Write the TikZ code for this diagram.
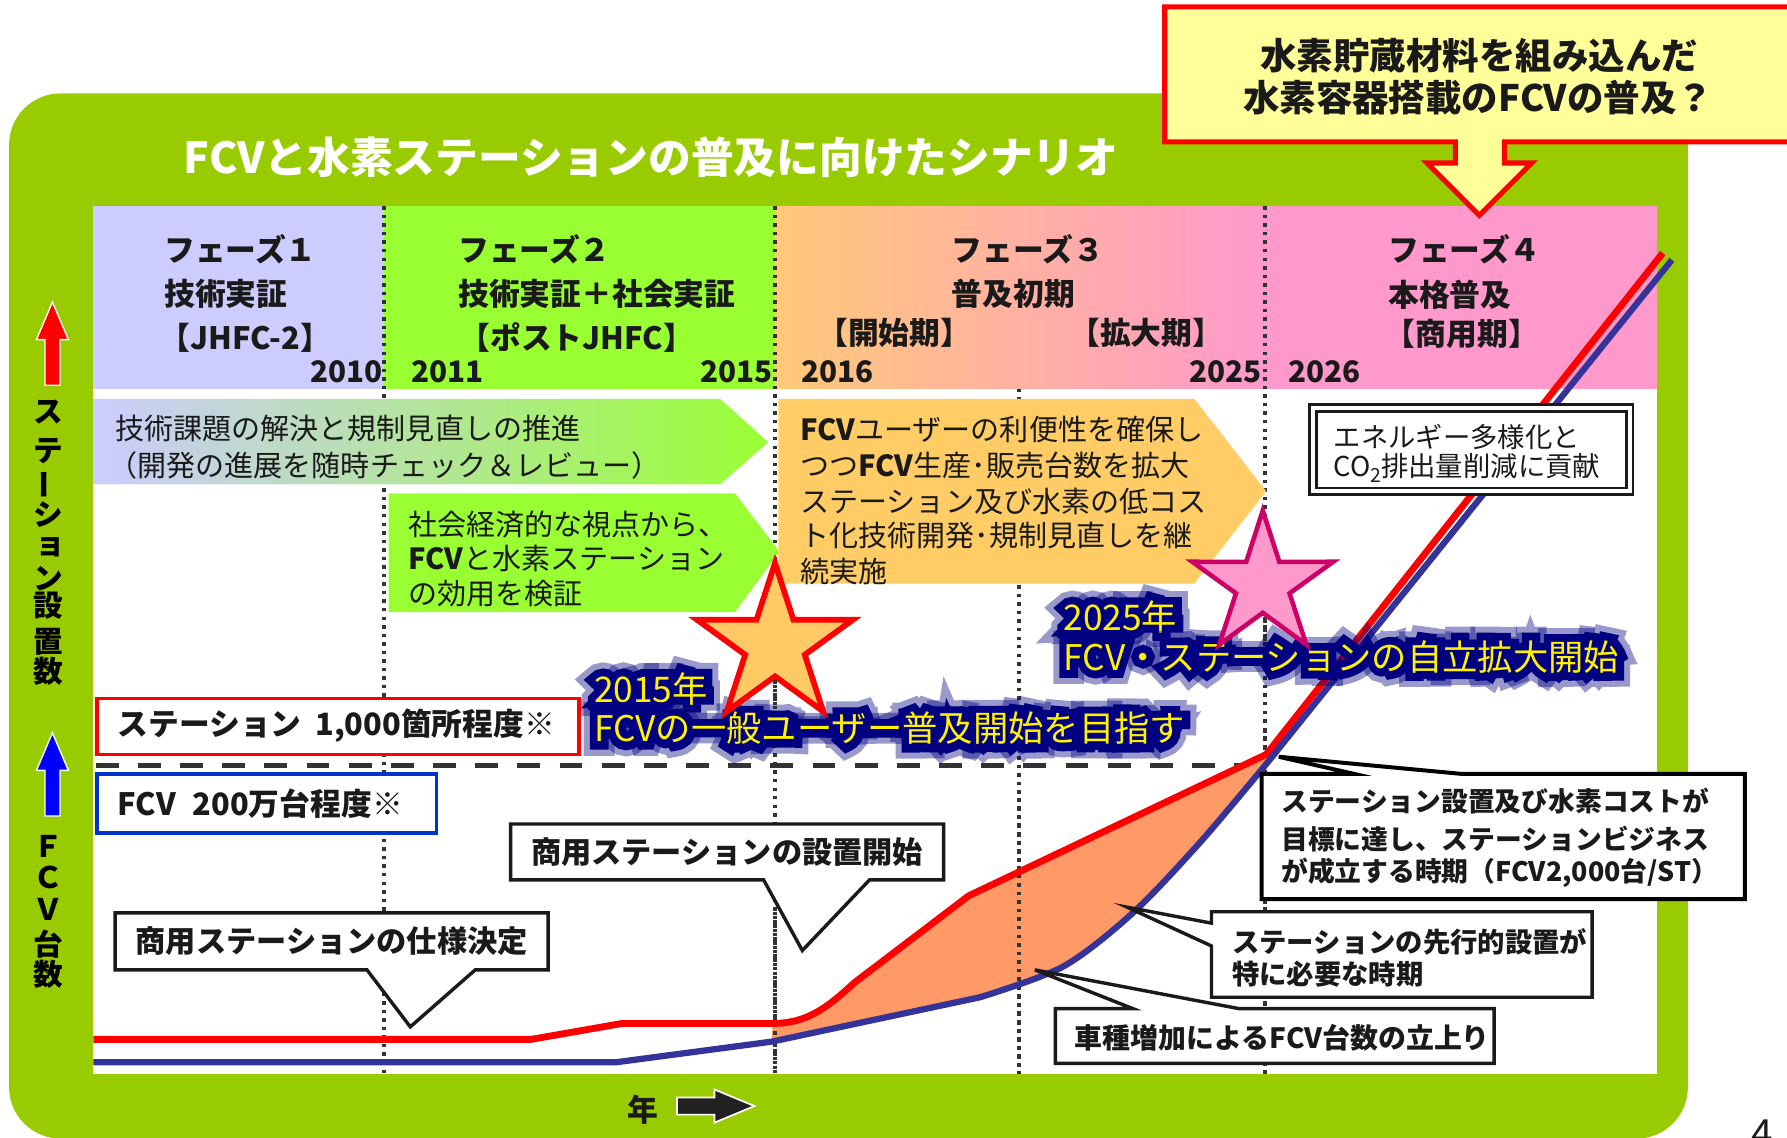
\documentclass[tikz,border=0pt]{standalone}
\usepackage{fontspec}
\setmainfont{Noto Sans CJK JP}
\newfontfamily\glowinner{Noto Sans CJK JP}[FakeBold=44]
\newfontfamily\glowouter{Noto Sans CJK JP}[FakeBold=78]
\usetikzlibrary{calc}
\definecolor{panelgreen}{HTML}{99CC00}
\definecolor{phA}{HTML}{CCCCFF}
\definecolor{phB}{HTML}{99FF33}
\definecolor{phC}{HTML}{FFC978}
\definecolor{phD}{HTML}{FF99CC}
\definecolor{arrC}{HTML}{FFCC66}
\definecolor{fillor}{HTML}{FF9966}
\definecolor{fcvblue}{HTML}{333399}
\definecolor{glownavy}{HTML}{000080}
\definecolor{startwo}{HTML}{CC0066}
\definecolor{starone}{HTML}{FFC966}
\definecolor{callfill}{HTML}{FFFF99}
\definecolor{dotgray}{HTML}{333333}
\definecolor{boxblue}{HTML}{0033CC}
\definecolor{inkblack}{HTML}{1A1A1A}
\newcommand\fsz[1]{\fontsize{#1}{#1}\selectfont}
\newcommand\drawstar[4]{\draw[#1] ($(#2)+(90:#3)$) -- ($(#2)+(126:#4)$) -- ($(#2)+(162:#3)$) -- ($(#2)+(198:#4)$) -- ($(#2)+(234:#3)$) -- ($(#2)+(270:#4)$) -- ($(#2)+(306:#3)$) -- ($(#2)+(342:#4)$) -- ($(#2)+(18:#3)$) -- ($(#2)+(54:#4)$) -- cycle;}
\newcommand\glowtext[3]{%
 \node[glowtxt,text=glownavy,opacity=0.4,font=\fsz{31}\glowouter] (#1o) at (#2) {#3};%
 \node[glowtxt,text=glownavy,font=\fsz{31}\glowinner] (#1i) at (#2) {#3};%
 \node[glowtxt,text=yellow] (#1) at (#2) {#3};}
\begin{document}
\begin{tikzpicture}[x=1pt,y=-1pt,
 glowtxt/.style={anchor=base west, inner sep=0pt, font=\fsz{31}},
 hdr/.style={anchor=west, inner sep=0pt, font=\fsz{27}\bfseries, text=inkblack},
 yr/.style={inner sep=0pt, font=\fsz{26}\bfseries, text=inkblack},
 atxt/.style={anchor=west, inner sep=0pt, font=\fsz{25.5}, text=inkblack},
 btxt/.style={anchor=west, inner sep=0pt, font=\fsz{24}\bfseries, text=inkblack},
 vtxt/.style={inner sep=0pt, font=\fsz{26}\bfseries, text=black},
 dotline/.style={draw=dotgray, line width=3pt, dash pattern=on 3pt off 4.5pt},
 cbox/.style={draw=inkblack, line width=3pt, fill=white, line join=miter},
]
\useasboundingbox (0,0) rectangle (1568,998);
\clip (0,0) rectangle (1568,998);
\fill[white] (0,0) rectangle (1568,998);
% panel
\fill[panelgreen, rounded corners=45pt] (8,82) rectangle (1481,999);
\node[anchor=base west, inner sep=0pt, font=\fsz{37.5}\bfseries, text=white] (title) at (161,152) {FCVと水素ステーションの普及に向けたシナリオ};
% bands
\fill[white] (82,341) rectangle (1454,942);
\fill[phA] (82,181) rectangle (337,341);
\fill[phB] (337,181) rectangle (680,341);
\shade[left color=phC, right color=phD] (680,181) rectangle (1110,341);
\fill[phD] (1110,181) rectangle (1454,341);
% dotted lines
\draw[dotline] (337,181) -- (337,942);
\draw[dotline] (680,181) -- (680,942);
\draw[dotline] (894,341) -- (894,942);
\draw[dotline] (1110,181) -- (1110,942);
% headers
\node[hdr] (p1a) at (144,219) {フェーズ１};
\node[hdr] (p1b) at (144,258) {技術実証};
\node[hdr] (p1c) at (140,296) {【JHFC-2】};
\node[yr, anchor=east] (y2010) at (336,326) {2010};
\node[hdr] (p2a) at (402,219) {フェーズ２};
\node[hdr] (p2b) at (402,258) {技術実証＋社会実証};
\node[hdr] (p2c) at (403,296) {【ポストJHFC】};
\node[yr, anchor=west] (y2011) at (361,326) {2011};
\node[yr, anchor=east] (y2015) at (678,326) {2015};
\node[hdr] (p3a) at (835,219) {フェーズ３};
\node[hdr] (p3b) at (835,258) {普及初期};
\node[hdr] (p3c) at (717,292) {【開始期】};
\node[hdr] (p3d) at (938,292) {【拡大期】};
\node[yr, anchor=west] (y2016) at (703,326) {2016};
\node[yr, anchor=east] (y2025) at (1107,326) {2025};
\node[hdr] (p4a) at (1218,219) {フェーズ４};
\node[hdr] (p4b) at (1218,259) {本格普及};
\node[hdr] (p4c) at (1215,293) {【商用期】};
\node[yr, anchor=west] (y2026) at (1130,326) {2026};
% arrows
\shade[left color=phA, right color=phB] (82,350) -- (632,350) -- (674,388) -- (632,425) -- (82,425) -- cycle;
\node[atxt] (a1) at (101,376) {技術課題の解決と規制見直しの推進};
\node[atxt] (a2) at (95,408) {（開発の進展を随時チェック＆レビュー）};
\fill[phB] (341,433) -- (645,433) -- (684,484) -- (645,537) -- (341,537) -- cycle;
\node[atxt] (b1) at (358,460) {社会経済的な視点から、};
\node[atxt] (b2) at (358,490) {{\bfseries FCV}と水素ステーション};
\node[atxt] (b3) at (358,521) {の効用を検証};
\fill[arrC] (683,350) -- (1048,350) -- (1111,431) -- (1048,512) -- (683,512) -- cycle;
\node[atxt] (c1) at (702,377) {{\bfseries FCV}ユーザーの利便性を確保し};
\node[atxt] (c2) at (702,408) {つつ{\bfseries FCV}生産･販売台数を拡大};
\node[atxt] (c3) at (702,440) {ステーション及び水素の低コス};
\node[atxt] (c4) at (702,470) {ト化技術開発･規制見直しを継};
\node[atxt] (c5) at (702,501) {続実施};
% dashed
\draw[dotgray, line width=4.5pt, dash pattern=on 20pt off 17pt] (84,672) -- (1100,672);
% fill and lines
\fill[fillor] (678,898) .. controls (710,898) and (728,882) .. (750,862) -- (850,786) -- (1111,662) -- (1113,668) -- plot[smooth] coordinates {(1113,668) (1054,738) (994,801) (933,848) (860,875)} -- (677,914) -- cycle;
\draw[dotline] (680,800) -- (680,942);
\draw[dotline] (894,700) -- (894,942);
\draw[dotline] (1110,640) -- (1110,942);
\draw[red, line width=6pt, line join=round] (82,912) -- (466,912) -- (546,898) -- (678,898) .. controls (710,898) and (728,882) .. (750,862) -- (850,786) -- (1111,662) -- (1459,222);
\draw[fcvblue, line width=5.5pt, line join=round] (82,932) -- (541,932) -- (677,914) -- (860,875) -- plot[smooth] coordinates {(860,875) (933,848) (994,801) (1054,738) (1113,668)} -- (1467,228);
% double box
\draw[inkblack, line width=2.2pt, fill=white] (1149,355) rectangle (1433,434);
\draw[inkblack, line width=2.2pt] (1155,361) rectangle (1427,428);
\node[anchor=west, inner sep=0pt, font=\fsz{24}, text=inkblack] (e1) at (1170,383) {エネルギー多様化と};
\node[anchor=west, inner sep=0pt, font=\fsz{24}, text=inkblack] (e2) at (1170,411) {CO\raisebox{-0.22em}{\fsz{17}2}排出量削減に貢献};
% glow texts
\coordinate (g1) at (521,616);
\coordinate (g2) at (521,651);
\coordinate (g3) at (933,553);
\coordinate (g4) at (933,588);
\glowtext{gA}{g1}{2015年}
\glowtext{gB}{g2}{FCVの一般ユーザー普及開始を目指す}
\glowtext{gC}{g3}{2025年}
\glowtext{gD}{g4}{FCV・ステーションの自立拡大開始}
% stars
\coordinate (s1) at (680,566);
\coordinate (s2) at (1108,513);
\drawstar{draw=red, fill=starone, line width=5pt, line join=miter}{s1}{72pt}{27.5pt}
\drawstar{draw=startwo, fill=phD, line width=4pt, line join=miter}{s2}{65pt}{24.7pt}
\draw[dotline] (680,597) -- (680,626);
\draw[dotline] (1110,544) -- (1110,566);
% boxes
\draw[draw=red, line width=3pt, fill=white] (85,613) rectangle (508,662);
\node[anchor=west, inner sep=0pt, font=\fsz{27}\bfseries, text=inkblack] (st) at (103,637) {ステーション\hspace{0.45em}1,000箇所程度※};
\draw[draw=boxblue, line width=3pt, fill=white] (85,679) rectangle (383,731);
\node[anchor=west, inner sep=0pt, font=\fsz{27}\bfseries, text=inkblack] (fc) at (103,705) {FCV\hspace{0.55em}200万台程度※};
\draw[cbox] (101,801) -- (481,801) -- (481,851) -- (417,851) -- (360,901) -- (322,851) -- (101,851) -- cycle;
\node[inner sep=0pt, font=\fsz{26.5}\bfseries, text=inkblack] (k1) at (291,826) {商用ステーションの仕様決定};
\draw[cbox] (448,723) -- (828,723) -- (828,772) -- (763,772) -- (704,834) -- (670,772) -- (448,772) -- cycle;
\node[inner sep=0pt, font=\fsz{26.5}\bfseries, text=inkblack] (k2) at (638,748) {商用ステーションの設置開始};
\draw[cbox, draw=black, line width=3.5pt] (1107,679) -- (1188,679) -- (1122,664) -- (1282,679) -- (1531,679) -- (1531,789) -- (1107,789) -- cycle;
\node[btxt, font=\fsz{23.5}\bfseries] (k3a) at (1124,703) {ステーション設置及び水素コストが};
\node[btxt, font=\fsz{23.5}\bfseries] (k3b) at (1124,736) {目標に達し、ステーションビジネス};
\node[btxt, font=\fsz{23.5}\bfseries] (k3c) at (1124,766) {が成立する時期（FCV2,000台/ST）};
\draw[cbox] (1063,800) -- (1397,800) -- (1397,875) -- (1063,875) -- (1063,830) -- (989,796) -- (1063,810) -- cycle;
\node[btxt] (k4a) at (1081,826) {ステーションの先行的設置が};
\node[btxt] (k4b) at (1081,855) {特に必要な時期};
\draw[cbox] (926,885) -- (994,885) -- (908,851) -- (1087,885) -- (1311,885) -- (1311,933) -- (926,933) -- cycle;
\node[btxt, font=\fsz{24.5}\bfseries] (k5) at (943,911) {車種増加によるFCV台数の立上り};
% top callout
\draw[draw=red, fill=callfill, line width=4.5pt, line join=miter] (1022,6) -- (1600,6) -- (1600,124.5) -- (1320,124.5) -- (1320,143) -- (1344,143) -- (1298,189) -- (1252,143) -- (1277,143) -- (1277,124.5) -- (1022,124.5) -- cycle;
\node[inner sep=0pt, font=\fsz{32}\bfseries, text=inkblack] (q1) at (1298,49) {水素貯蔵材料を組み込んだ};
\node[inner sep=0pt, font=\fsz{32}\bfseries, text=inkblack] (q2) at (1297,86) {水素容器搭載のFCVの普及？};
% left axis
\draw[white, line width=1.2pt, fill=red] (39.5,338) -- (39.5,298) -- (32,298) -- (46,265) -- (60,298) -- (52.6,298) -- (52.6,338) -- cycle;
\node[vtxt] (v1) at (42.5,362) {ス};
\node[vtxt] (v2) at (42.5,396) {テ};
\node[vtxt, rotate=90] (v3) at (42.5,425) {ー};
\node[vtxt] (v4) at (42.5,451) {シ};
\node[vtxt] (v5) at (44,480) {ョ};
\node[vtxt] (v6) at (42.5,508) {ン};
\node[vtxt] (v7) at (42.5,531) {設};
\node[vtxt] (v8) at (42.5,563) {置};
\node[vtxt] (v9) at (42.5,589) {数};
\draw[white, line width=1.2pt, fill=blue] (39.5,716) -- (39.5,676) -- (32,676) -- (46,643) -- (60,676) -- (52.6,676) -- (52.6,716) -- cycle;
\node[vtxt] (w1) at (42.5,743) {Ｆ};
\node[vtxt] (w2) at (42.5,770) {Ｃ};
\node[vtxt] (w3) at (42.5,798) {Ｖ};
\node[vtxt] (w4) at (42.5,828) {台};
\node[vtxt] (w5) at (42.5,855) {数};
% year arrow
\node[inner sep=0pt, font=\fsz{27}\bfseries, text=inkblack] (nen) at (564,974) {年};
\draw[white, line width=1.5pt, fill=black!87] (594,963) -- (627,963) -- (627,956) -- (662,970.5) -- (627,985) -- (627,978) -- (594,978) -- cycle;
\node[anchor=north west, inner sep=0pt, font=\fsz{34}, text=inkblack] (pg) at (1537,982) {4};
\end{tikzpicture}
\end{document}
